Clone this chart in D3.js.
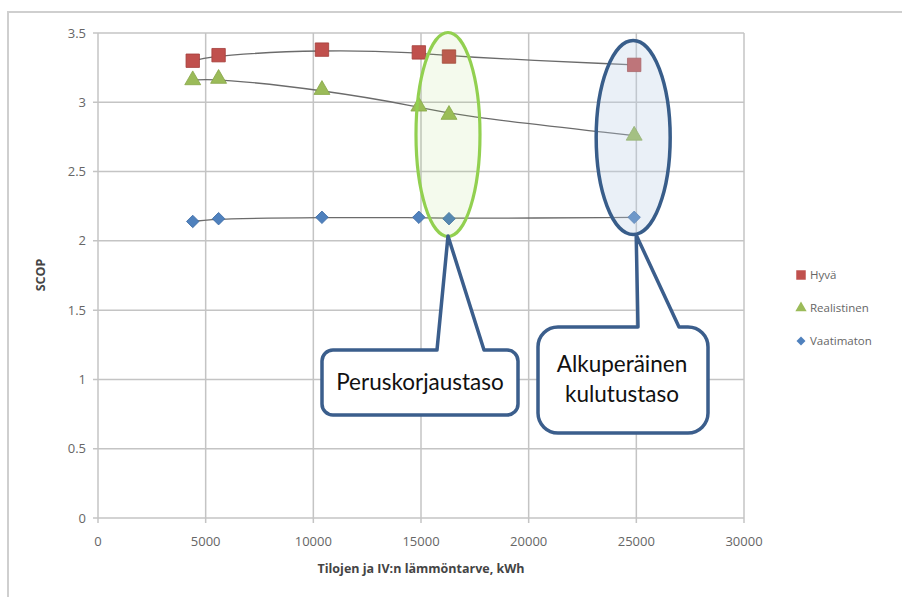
<!DOCTYPE html>
<html><head><meta charset="utf-8">
<script src="https://cdn.jsdelivr.net/npm/d3@7"></script>
<style>body{margin:0;background:#fff;} svg{display:block;}</style>
</head><body>
<svg id="c" width="902" height="597"></svg>
<script>
const xValues = [4400, 5600, 10400, 14900, 16300, 24900];
const hyva = [3.30, 3.34, 3.38, 3.36, 3.33, 3.27];
const realistinen = [3.16, 3.17, 3.09, 2.97, 2.91, 2.76];
const vaatimaton = [2.14, 2.16, 2.17, 2.17, 2.16, 2.17];
const seriesNames = ["Hyvä", "Realistinen", "Vaatimaton"];
const xTicks = [0, 5000, 10000, 15000, 20000, 25000, 30000];
const yTicks = [0, 0.5, 1, 1.5, 2, 2.5, 3, 3.5];
const xTitle = "Tilojen ja IV:n lämmöntarve, kWh";
const yTitle = "SCOP";
const callout1 = ["Peruskorjaustaso"];
const callout2 = ["Alkuperäinen", "kulutustaso"];

const svg = d3.select("#c");
const L = 98, R = 744, T = 33, B = 518;
const x = d3.scaleLinear().domain([0, 30000]).range([L, R]);
const y = d3.scaleLinear().domain([0, 3.5]).range([B, T]);

// outer frame
svg.append("rect").attr("x", 8).attr("y", 12).attr("width", 920).attr("height", 620)
  .attr("fill", "none").attr("stroke", "#cfcfcf").attr("stroke-width", 2);

// grid
const grid = svg.append("g");
grid.selectAll(".gy").data(yTicks).join("line")
  .attr("x1", L - 5).attr("x2", R).attr("y1", d => y(d)).attr("y2", d => y(d))
  .attr("stroke", "#c4c4c4").attr("stroke-width", 1.5);
grid.selectAll(".gx").data(xTicks).join("line")
  .attr("x1", d => x(d)).attr("x2", d => x(d)).attr("y1", T).attr("y2", B + 5)
  .attr("stroke", "#c4c4c4").attr("stroke-width", 1.5);

// axes labels
const tickFont = "'Open Sans', Lato, sans-serif";
svg.append("g").selectAll("text").data(yTicks).join("text")
  .attr("x", L - 12).attr("y", d => y(d) + 4.5).attr("text-anchor", "end")
  .attr("font-family", tickFont).attr("font-size", 13).attr("fill", "#666")
  .text(d => d3.format("")(d));
svg.append("g").selectAll("text").data(xTicks).join("text")
  .attr("x", d => x(d)).attr("y", B + 28).attr("text-anchor", "middle")
  .attr("font-family", tickFont).attr("font-size", 13).attr("fill", "#666")
  .text(d => d);
svg.append("text").attr("x", (L + R) / 2).attr("y", 573).attr("text-anchor", "middle")
  .attr("font-family", tickFont).attr("font-size", 12.5).attr("font-weight", "bold").attr("fill", "#444")
  .text(xTitle);
svg.append("text").attr("transform", "translate(45,275) rotate(-90)").attr("text-anchor", "middle")
  .attr("font-family", tickFont).attr("font-size", 12.5).attr("font-weight", "bold").attr("fill", "#444")
  .text(yTitle);

// series
const series = [
  {name: seriesNames[0], vals: hyva, color: "#c0504d", stroke: "#a33d3a", sym: d3.symbolSquare, size: 180, rot: 0, lsize: 90},
  {name: seriesNames[1], vals: realistinen, color: "#9bbb59", stroke: "#86a648", sym: d3.symbolTriangle, size: 110, rot: 0, lsize: 55},
  {name: seriesNames[2], vals: vaatimaton, color: "#4f81bd", stroke: "#3d6da6", sym: d3.symbolSquare, size: 78, rot: 45, lsize: 40}
];
const line = d3.line().x(d => x(d[0])).y(d => y(d[1])).curve(d3.curveBasis);
series.forEach(s => {
  const pts = xValues.map((v, i) => [v, s.vals[i]]);
  svg.append("path").attr("d", line(pts)).attr("fill", "none").attr("stroke", "#6b6b6b").attr("stroke-width", 1.3);
});
series.forEach(s => {
  const pts = xValues.map((v, i) => [v, s.vals[i]]);
  svg.append("g").selectAll("path").data(pts).join("path")
    .attr("transform", d => `translate(${x(d[0])},${y(d[1])}) rotate(${s.rot})`)
    .attr("d", d3.symbol().type(s.sym).size(s.size))
    .attr("fill", s.color).attr("stroke", s.stroke).attr("stroke-width", 0.8);
});

// ellipses
const e1x = x(16300), e2x = x(24900);
svg.append("ellipse").attr("cx", e1x - 1).attr("cy", 134.5).attr("rx", 32).attr("ry", 102)
  .attr("fill", "#92d050").attr("fill-opacity", 0.1).attr("stroke", "#92d050").attr("stroke-width", 3.2);
svg.append("ellipse").attr("cx", e2x - 1).attr("cy", 137.5).attr("rx", 37).attr("ry", 97)
  .attr("fill", "#b9cde5").attr("fill-opacity", 0.3).attr("stroke", "#385d8a").attr("stroke-width", 3.5);

// callouts
function callout(x0, y0, x1, y1, r, b1, b2, tx, ty) {
  return `M${x0 + r},${y0} L${b1},${y0} L${tx},${ty} L${b2},${y0} L${x1 - r},${y0} ` +
    `A${r},${r} 0 0 1 ${x1},${y0 + r} L${x1},${y1 - r} A${r},${r} 0 0 1 ${x1 - r},${y1} ` +
    `L${x0 + r},${y1} A${r},${r} 0 0 1 ${x0},${y1 - r} L${x0},${y0 + r} A${r},${r} 0 0 1 ${x0 + r},${y0} Z`;
}
svg.append("path").attr("d", callout(322, 350, 518, 415, 11, 437, 484, e1x - 1, 236))
  .attr("fill", "#fff").attr("stroke", "#3b5e8c").attr("stroke-width", 3.5).attr("stroke-linejoin", "round");
svg.append("path").attr("d", callout(538, 327, 708, 433, 20, 638, 679, e2x + 2, 235))
  .attr("fill", "#fff").attr("stroke", "#3b5e8c").attr("stroke-width", 3.5).attr("stroke-linejoin", "round");
const cFont = "Lato, 'Open Sans', sans-serif";
svg.append("text").attr("x", 420).attr("y", 390).attr("text-anchor", "middle")
  .attr("font-family", cFont).attr("font-size", 22.5).attr("fill", "#111").text(callout1[0]);
svg.append("g").selectAll("text").data(callout2).join("text")
  .attr("x", 622).attr("y", (d, i) => 372 + i * 30).attr("text-anchor", "middle")
  .attr("font-family", cFont).attr("font-size", 22.5).attr("fill", "#111").text(d => d);

// legend
const lg = svg.append("g");
const ly = [275, 308, 341];
series.forEach((s, i) => {
  lg.append("path").attr("transform", `translate(801,${ly[i]}) rotate(${s.rot})`)
    .attr("d", d3.symbol().type(s.sym).size(s.lsize))
    .attr("fill", s.color);
  lg.append("text").attr("x", 810).attr("y", ly[i] + 4).attr("font-family", tickFont)
    .attr("font-size", 11.5).attr("fill", "#666").text(s.name);
});
</script>
</body></html>
